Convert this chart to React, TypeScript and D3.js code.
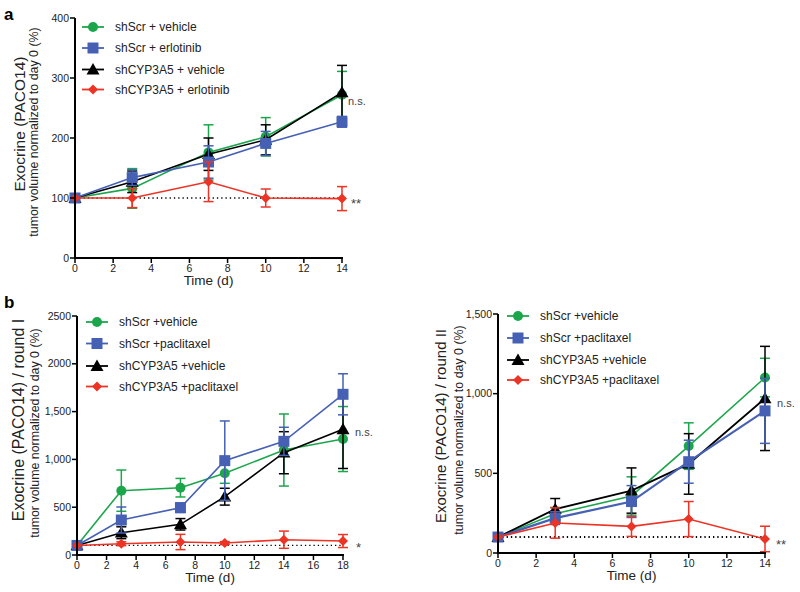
import React from "react";
import * as d3 from "d3";

// ---------- DATA ----------
const daysA = [0, 3, 7, 10, 14];
const aScrVeh = [100, 116, 176, 202, 272];
const aScrVehErr = [0, 33, 46, 32, 39];
const aScrErl = [100, 134, 160, 191, 227];
const aScrErlErr = [0, 13, 27, 20, 9];
const aCypVeh = [100, 127, 173, 197, 276];
const aCypVehErr = [0, 18, 27, 25, 45];
const aCypErl = [100, 100, 127, 100, 99];
const aCypErlErr = [0, 16, 33, 15, 20];
const legendA = ["shScr + vehicle", "shScr + erlotinib", "shCYP3A5 + vehicle", "shCYP3A5 + erlotinib"];
const yTicksA = [0, 100, 200, 300, 400];
const xTicksA = [0, 2, 4, 6, 8, 10, 12, 14];

const daysB1 = [0, 3, 7, 10, 14, 18];
const b1ScrVeh = [100, 673, 704, 855, 1098, 1213];
const b1ScrVehErr = [0, 216, 97, 105, 377, 340];
const b1ScrPac = [100, 366, 495, 987, 1189, 1681];
const b1ScrPacErr = [0, 136, 50, 415, 147, 215];
const b1CypVeh = [100, 233, 321, 610, 1070, 1315];
const b1CypVehErr = [0, 62, 60, 88, 220, 410];
const b1CypPac = [100, 118, 136, 125, 160, 146];
const b1CypPacErr = [0, 20, 80, 15, 90, 68];
const legendB = ["shScr +vehicle", "shScr +paclitaxel", "shCYP3A5 +vehicle", "shCYP3A5 +paclitaxel"];
const yTicksB1 = [0, 500, 1000, 1500, 2000, 2500];
const yTickLabelsB1 = ["0", "500", "1,000", "1,500", "2000", "2500"];
const xTicksB1 = [0, 2, 4, 6, 8, 10, 12, 14, 16, 18];

const daysB2 = [0, 3, 7, 10, 14];
const b2ScrVeh = [100, 246, 358, 671, 1101];
const b2ScrVehErr = [0, 40, 120, 146, 121];
const b2ScrPac = [100, 219, 323, 573, 892];
const b2ScrPacErr = [0, 40, 100, 135, 204];
const b2CypVeh = [100, 275, 392, 559, 970];
const b2CypVehErr = [0, 67, 142, 190, 327];
const b2CypPac = [100, 188, 167, 213, 88];
const b2CypPacErr = [0, 95, 63, 110, 80];
const yTicksB2 = [0, 500, 1000, 1500];
const yTickLabelsB2 = ["0", "500", "1,000", "1,500"];
const xTicksB2 = [0, 2, 4, 6, 8, 10, 12, 14];

// ---------- STYLE ----------
const COLORS = ["#1ca64c", "#4660b4", "#000000", "#ec3324"];
const SHAPES = ["circle", "square", "triangle", "diamond"];
const FONT = "'Liberation Sans', Arial, Helvetica, sans-serif";

type Series = { y: number[]; e: number[]; color: string; shape: string };

function Marker({ shape, x, y, color, s = 1 }: any) {
  if (shape === "circle") return <circle cx={x} cy={y} r={5 * s} fill={color} />;
  if (shape === "square") return <rect x={x - 5.5 * s} y={y - 5.5 * s} width={11 * s} height={11 * s} fill={color} />;
  if (shape === "triangle") {
    const r = 6.5 * s;
    return <path d={`M${x},${y - r} L${x + r},${y + r * 0.75} L${x - r},${y + r * 0.75}Z`} fill={color} />;
  }
  const r = 5 * s;
  return <path d={`M${x},${y - r} L${x + r},${y} L${x},${y + r} L${x - r},${y}Z`} fill={color} />;
}

function Panel(props: any) {
  const {
    left, right, top, bottom, xMax, yMax, xTicks, yTicks, yTickLabels, days, series,
    legend, legX, legY, legDy, titles, titleX, titleFs, titleCy, sig, dotW, lw,
  } = props;
  const x = d3.scaleLinear().domain([0, xMax]).range([left, right]);
  const y = d3.scaleLinear().domain([0, yMax]).range([bottom, top]);
  const line = d3.line<number>().x((_, i) => x(days[i])).y((v) => y(v));
  const order = [0, 2, 1, 3];
  return (
    <g fontFamily={FONT}>
      <line x1={x(0)} x2={x(xMax)} y1={y(100)} y2={y(100)} stroke="#000" strokeWidth={dotW} strokeDasharray="1.3,3" />
      {order.map((k) => {
        const s: Series = series[k];
        return (
          <g key={k}>
            {s.y.map((v, i) =>
              s.e[i] > 0 ? (
                <g key={i} stroke={s.color} strokeWidth={1.5}>
                  <line x1={x(days[i])} x2={x(days[i])} y1={y(v - s.e[i])} y2={y(v + s.e[i])} />
                  <line x1={x(days[i]) - 5} x2={x(days[i]) + 5} y1={y(v + s.e[i])} y2={y(v + s.e[i])} />
                  <line x1={x(days[i]) - 5} x2={x(days[i]) + 5} y1={y(v - s.e[i])} y2={y(v - s.e[i])} />
                </g>
              ) : null
            )}
            <path d={line(s.y) || ""} fill="none" stroke={s.color} strokeWidth={lw[k]} />
            {s.y.map((v, i) => (
              <Marker key={i} shape={s.shape} x={x(days[i])} y={y(v)} color={s.color} />
            ))}
          </g>
        );
      })}
      <line x1={left} x2={left} y1={top} y2={bottom + 1} stroke="#000" strokeWidth={2} />
      <line x1={left - 1} x2={right + 1} y1={bottom} y2={bottom} stroke="#000" strokeWidth={2} />
      {yTicks.map((t: number, i: number) => (
        <g key={t}>
          <line x1={left - 5} x2={left} y1={y(t)} y2={y(t)} stroke="#000" strokeWidth={1.5} />
          <text x={left - 6} y={y(t)} dy="0.35em" textAnchor="end" fontSize={10.5} fill="#222">
            {yTickLabels ? yTickLabels[i] : String(t)}
          </text>
        </g>
      ))}
      {xTicks.map((t: number) => (
        <g key={t}>
          <line x1={x(t)} x2={x(t)} y1={bottom} y2={bottom + 5} stroke="#000" strokeWidth={1.5} />
          <text x={x(t)} y={bottom + 14} textAnchor="middle" fontSize={10.5} fill="#222">{t}</text>
        </g>
      ))}
      <text x={(left + right) / 2} y={bottom + 27} textAnchor="middle" fontSize={13.5} fill="#222">Time (d)</text>
      <text transform={`translate(${titleX[0]},${titleCy[0]}) rotate(-90)`} textAnchor="middle" fontSize={titleFs[0]} fill="#222">
        {titles[0]}
      </text>
      <text transform={`translate(${titleX[1]},${titleCy[1]}) rotate(-90)`} textAnchor="middle" fontSize={titleFs[1]} fill="#222">
        {titles[1]}
      </text>
      {legend.map((lab: string, i: number) => {
        const ly = legY + legDy.slice(0, i).reduce((a: number, b: number) => a + b, 0);
        return (
          <g key={lab}>
            <line x1={legX - 11} x2={legX + 11} y1={ly} y2={ly} stroke={COLORS[i]} strokeWidth={1.8} />
            <Marker shape={SHAPES[i]} x={legX} y={ly} color={COLORS[i]} />
            <text x={legX + 22} y={ly} dy="0.35em" fontSize={12} fill="#222">{lab}</text>
          </g>
        );
      })}
      {sig.map((s: any) => (
        <text key={s.t} x={x(xMax) + s.dx} y={y(s.v)} dy={s.dy} fontSize={s.fs} fill="#444">{s.t}</text>
      ))}
    </g>
  );
}

const mk = (ys: number[][], es: number[][]): Series[] =>
  ys.map((yv, i) => ({ y: yv, e: es[i], color: COLORS[i], shape: SHAPES[i] }));

export default function App() {
  const sA = mk([aScrVeh, aScrErl, aCypVeh, aCypErl], [aScrVehErr, aScrErlErr, aCypVehErr, aCypErlErr]);
  const sB1 = mk([b1ScrVeh, b1ScrPac, b1CypVeh, b1CypPac], [b1ScrVehErr, b1ScrPacErr, b1CypVehErr, b1CypPacErr]);
  const sB2 = mk([b2ScrVeh, b2ScrPac, b2CypVeh, b2CypPac], [b2ScrVehErr, b2ScrPacErr, b2CypVehErr, b2CypPacErr]);
  return (
    <svg width={800} height={592} style={{ position: "absolute", left: 0, top: 0, background: "#fff" }}>
      <rect width={800} height={592} fill="#fff" />
      <text x={4} y={20} fontFamily={FONT} fontWeight="bold" fontSize={17}>a</text>
      <text x={4} y={308} fontFamily={FONT} fontWeight="bold" fontSize={17}>b</text>
      <Panel
        left={75} right={342} top={18} bottom={258} xMax={14} yMax={400}
        xTicks={xTicksA} yTicks={yTicksA} days={daysA} series={sA}
        legend={legendA} legX={93} legY={27} legDy={[21, 21.5, 20]}
        titles={["Exocrine (PACO14)", "tumor volume normalized to day 0 (%)"]}
        titleX={[24.5, 38]} titleFs={[15.5, 12.4]} titleCy={[124, 132]}
        sig={[{ t: "n.s.", v: 261, dx: 6, dy: "0.35em", fs: 11 }, { t: "**", v: 97, dx: 9, dy: "0.6em", fs: 13 }]}
        dotW={1.3} lw={[1.6, 1.6, 1.6, 1.6]}
      />
      <Panel
        left={77} right={343} top={316} bottom={555} xMax={18} yMax={2500}
        xTicks={xTicksB1} yTicks={yTicksB1} yTickLabels={yTickLabelsB1} days={daysB1} series={sB1}
        legend={legendB} legX={97} legY={322} legDy={[21.5, 22.5, 20.5]}
        titles={["Exocrine (PACO14) / round I", "tumor volume normalized to day 0 (%)"]}
        titleX={[23.5, 39]} titleFs={[16, 12.4]} titleCy={[420, 433]}
        sig={[{ t: "n.s.", v: 1290, dx: 12, dy: "0.35em", fs: 11 }, { t: "*", v: 130, dx: 13, dy: "0.7em", fs: 13 }]}
        dotW={1.3} lw={[1.6, 1.6, 1.6, 1.6]}
      />
      <Panel
        left={498} right={765} top={314} bottom={553} xMax={14} yMax={1500}
        xTicks={xTicksB2} yTicks={yTicksB2} yTickLabels={yTickLabelsB2} days={daysB2} series={sB2}
        legend={legendB} legX={518} legY={316} legDy={[22, 22, 20]}
        titles={["Exocrine (PACO14) / round II", "tumor volume normalized to  day 0 (%)"]}
        titleX={[446, 462.5]} titleFs={[15, 12.4]} titleCy={[426, 430]}
        sig={[{ t: "n.s.", v: 940, dx: 12, dy: "0.35em", fs: 11 }, { t: "**", v: 77, dx: 11, dy: "0.6em", fs: 13 }]}
        dotW={2} lw={[1.6, 2.2, 1.8, 1.6]}
      />
    </svg>
  );
}
